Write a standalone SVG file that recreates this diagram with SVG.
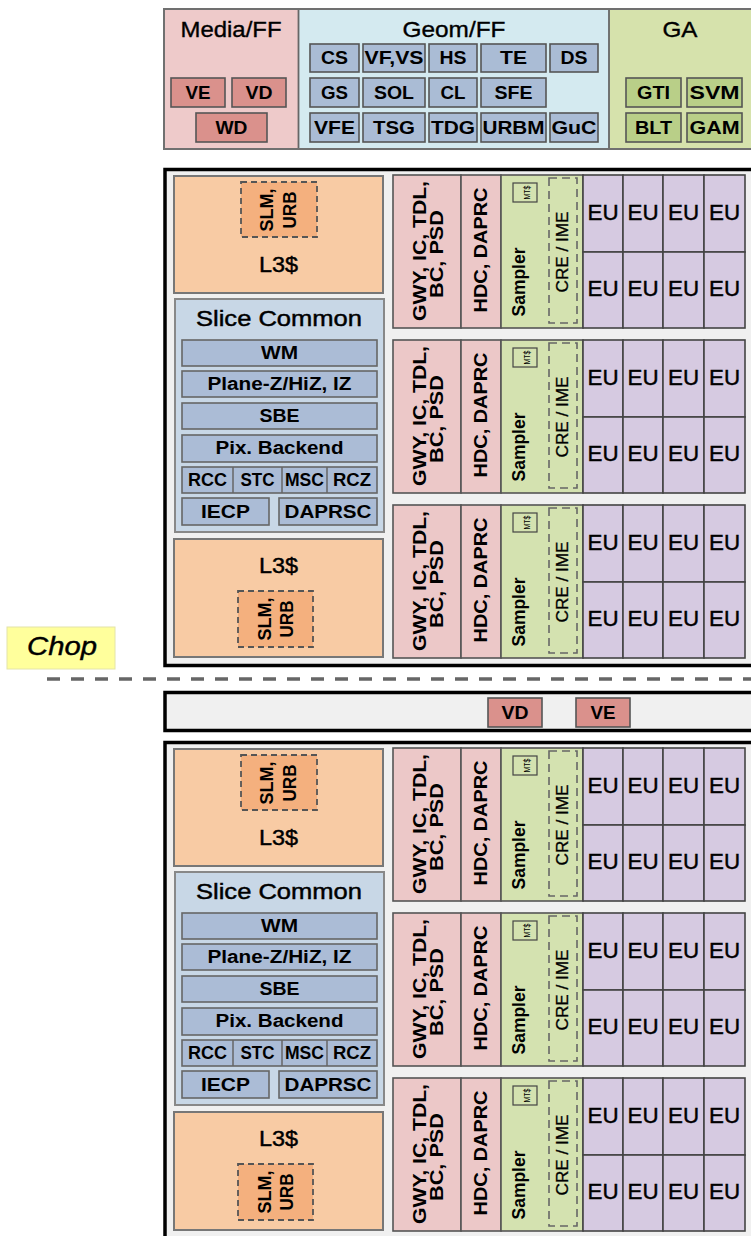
<svg xmlns="http://www.w3.org/2000/svg" width="751" height="1236" viewBox="0 0 751 1236">
<style>
text{font-family:"Liberation Sans",Arial,sans-serif;text-anchor:middle;fill:#000}
.b{font-weight:bold;font-size:18px}
.t{font-size:22px;stroke:#000;stroke-width:0.45}
.ttl{font-size:22px;stroke:#000;stroke-width:0.35}
.mf{fill:#eecaca}
.gf{fill:#d4eaf0}
.gaf{fill:#d6e2ac}
.bxr{fill:#da918c;stroke:#555;stroke-width:1.6}
.bxb{fill:#aabcd5;stroke:#555;stroke-width:1.6}
.bxg{fill:#b9cf88;stroke:#555;stroke-width:1.6}
.slice{fill:#f0f0f0;stroke:#000;stroke-width:3.5}
.l3{fill:#f8cba4;stroke:#777;stroke-width:2}
.slm{fill:#f4b07e;stroke:#555;stroke-width:1.8;stroke-dasharray:6 4}
.sc{fill:#c8d7e6;stroke:#888;stroke-width:2}
.scb{fill:#abbcd6;stroke:#666;stroke-width:1.6}
.pk{fill:#ecc8c8;stroke:#555;stroke-width:1.6}
.sm{fill:#d4e2b0;stroke:#555;stroke-width:1.6}
.eu{fill:#d6cae1;stroke:#444;stroke-width:1.6}
.cre{fill:none;stroke:#666;stroke-width:1.6;stroke-dasharray:8 5}
.mt{fill:none;stroke:#444;stroke-width:1.2}
.r{font-weight:bold;font-size:18px}
.sp{font-weight:bold;font-size:19px}
.eut{font-size:22px;stroke:#000;stroke-width:0.4}
.mtt{font-size:9px}
.cret{font-size:16px;stroke:#000;stroke-width:0.3}
</style>

<g id="top-panel">
  <rect x="164" y="9" width="134.5" height="140" class="mf"/>
  <rect x="298.5" y="9" width="310.5" height="140" class="gf"/>
  <rect x="609" y="9" width="150" height="140" class="gaf"/>
  <line x1="298.5" y1="9" x2="298.5" y2="149" stroke="#666" stroke-width="1.8"/>
  <line x1="609" y1="9" x2="609" y2="149" stroke="#666" stroke-width="1.8"/>
  <rect x="164" y="9" width="600" height="140" fill="none" stroke="#707070" stroke-width="2"/>
</g>

<g id="media-ff">
  <text x="231" y="37" class="ttl" textLength="101" lengthAdjust="spacingAndGlyphs">Media/FF</text>
  <g id="mf-ve"><rect x="171" y="78" width="54" height="29" class="bxr"/><text x="198" y="99" class="b" textLength="25" lengthAdjust="spacingAndGlyphs">VE</text></g>
  <g id="mf-vd"><rect x="232" y="78" width="54" height="29" class="bxr"/><text x="259" y="99" class="b" textLength="27" lengthAdjust="spacingAndGlyphs">VD</text></g>
  <g id="mf-wd"><rect x="196" y="113" width="71" height="29" class="bxr"/><text x="231.5" y="134" class="b" textLength="32" lengthAdjust="spacingAndGlyphs">WD</text></g>
</g>

<g id="geom-ff">
  <text x="454" y="37" class="ttl" textLength="103" lengthAdjust="spacingAndGlyphs">Geom/FF</text>
  <g id="g-cs"><rect x="310" y="44" width="49" height="28" class="bxb"/><text x="334.5" y="64" class="b" textLength="27" lengthAdjust="spacingAndGlyphs">CS</text></g>
  <g id="g-vfvs"><rect x="363" y="44" width="62" height="28" class="bxb"/><text x="394" y="64" class="b" textLength="59" lengthAdjust="spacingAndGlyphs">VF,VS</text></g>
  <g id="g-hs"><rect x="429" y="44" width="48" height="28" class="bxb"/><text x="453" y="64" class="b" textLength="27" lengthAdjust="spacingAndGlyphs">HS</text></g>
  <g id="g-te"><rect x="481" y="44" width="65" height="28" class="bxb"/><text x="513.5" y="64" class="b" textLength="27" lengthAdjust="spacingAndGlyphs">TE</text></g>
  <g id="g-ds"><rect x="550" y="44" width="48" height="28" class="bxb"/><text x="574" y="64" class="b" textLength="27" lengthAdjust="spacingAndGlyphs">DS</text></g>
  <g id="g-gs"><rect x="310" y="78" width="49" height="29" class="bxb"/><text x="334.5" y="99" class="b" textLength="27" lengthAdjust="spacingAndGlyphs">GS</text></g>
  <g id="g-sol"><rect x="363" y="78" width="62" height="29" class="bxb"/><text x="394" y="99" class="b" textLength="40" lengthAdjust="spacingAndGlyphs">SOL</text></g>
  <g id="g-cl"><rect x="429" y="78" width="48" height="29" class="bxb"/><text x="453" y="99" class="b" textLength="25" lengthAdjust="spacingAndGlyphs">CL</text></g>
  <g id="g-sfe"><rect x="481" y="78" width="65" height="29" class="bxb"/><text x="513.5" y="99" class="b" textLength="38" lengthAdjust="spacingAndGlyphs">SFE</text></g>
  <g id="g-vfe"><rect x="310" y="113" width="49" height="29" class="bxb"/><text x="334.5" y="134" class="b" textLength="41" lengthAdjust="spacingAndGlyphs">VFE</text></g>
  <g id="g-tsg"><rect x="363" y="113" width="62" height="29" class="bxb"/><text x="394" y="134" class="b" textLength="42" lengthAdjust="spacingAndGlyphs">TSG</text></g>
  <g id="g-tdg"><rect x="429" y="113" width="48" height="29" class="bxb"/><text x="453" y="134" class="b" textLength="44" lengthAdjust="spacingAndGlyphs">TDG</text></g>
  <g id="g-urbm"><rect x="481" y="113" width="65" height="29" class="bxb"/><text x="513.5" y="134" class="b" textLength="62" lengthAdjust="spacingAndGlyphs">URBM</text></g>
  <g id="g-guc"><rect x="550" y="113" width="48" height="29" class="bxb"/><text x="574" y="134" class="b" textLength="45" lengthAdjust="spacingAndGlyphs">GuC</text></g>
</g>

<g id="ga">
  <text x="680" y="37" class="ttl" textLength="35" lengthAdjust="spacingAndGlyphs">GA</text>
  <g id="ga-gti"><rect x="626" y="78" width="55" height="29" class="bxg"/><text x="653.5" y="99" class="b" textLength="33" lengthAdjust="spacingAndGlyphs">GTI</text></g>
  <g id="ga-svm"><rect x="687" y="78" width="55" height="29" class="bxg"/><text x="714.5" y="99" class="b" textLength="50" lengthAdjust="spacingAndGlyphs">SVM</text></g>
  <g id="ga-blt"><rect x="626" y="113" width="55" height="29" class="bxg"/><text x="653.5" y="134" class="b" textLength="37" lengthAdjust="spacingAndGlyphs">BLT</text></g>
  <g id="ga-gam"><rect x="687" y="113" width="55" height="29" class="bxg"/><text x="714.5" y="134" class="b" textLength="50" lengthAdjust="spacingAndGlyphs">GAM</text></g>
</g>

<!-- ================= SLICE 1 ================= -->
<g id="slice1">
  <rect x="165" y="169.5" width="620" height="496" class="slice"/>
  <g id="s1-l3-top">
    <rect x="174" y="176" width="209" height="117" class="l3"/>
    <rect x="241" y="182" width="76" height="55" class="slm"/>
    <text transform="translate(273,210) rotate(-90)" class="r" textLength="43" lengthAdjust="spacingAndGlyphs">SLM,</text>
    <text transform="translate(296,210) rotate(-90)" class="r" textLength="37" lengthAdjust="spacingAndGlyphs">URB</text>
    <text x="278.5" y="272" class="t" textLength="39" lengthAdjust="spacingAndGlyphs">L3$</text>
  </g>
  <g id="s1-slice-common">
    <rect x="175" y="299" width="209" height="233" class="sc"/>
    <text x="279" y="326" class="t" textLength="166" lengthAdjust="spacingAndGlyphs">Slice Common</text>
    <rect x="182" y="340" width="195" height="26" class="scb"/><text x="279.5" y="359" class="r" textLength="37" lengthAdjust="spacingAndGlyphs">WM</text>
    <rect x="182" y="371" width="195" height="26" class="scb"/><text x="279.5" y="390" class="r" textLength="144" lengthAdjust="spacingAndGlyphs">Plane-Z/HiZ, IZ</text>
    <rect x="182" y="403" width="195" height="26" class="scb"/><text x="279.5" y="422" class="r" textLength="40" lengthAdjust="spacingAndGlyphs">SBE</text>
    <rect x="182" y="435" width="195" height="27" class="scb"/><text x="279.5" y="454" class="r" textLength="128" lengthAdjust="spacingAndGlyphs">Pix. Backend</text>
    <rect x="182" y="467" width="195" height="26" class="scb"/>
    <line x1="233" y1="467" x2="233" y2="493" stroke="#666" stroke-width="1.5"/>
    <line x1="282" y1="467" x2="282" y2="493" stroke="#666" stroke-width="1.5"/>
    <line x1="327" y1="467" x2="327" y2="493" stroke="#666" stroke-width="1.5"/>
    <text x="207.5" y="486" class="r" textLength="39" lengthAdjust="spacingAndGlyphs">RCC</text>
    <text x="257.5" y="486" class="r" textLength="34" lengthAdjust="spacingAndGlyphs">STC</text>
    <text x="304.5" y="486" class="r" textLength="39" lengthAdjust="spacingAndGlyphs">MSC</text>
    <text x="352" y="486" class="r" textLength="38" lengthAdjust="spacingAndGlyphs">RCZ</text>
    <rect x="182" y="498" width="87" height="27" class="scb"/><text x="225.5" y="518" class="r" textLength="49" lengthAdjust="spacingAndGlyphs">IECP</text>
    <rect x="279" y="498" width="98" height="27" class="scb"/><text x="328" y="518" class="r" textLength="87" lengthAdjust="spacingAndGlyphs">DAPRSC</text>
  </g>
  <g id="s1-l3-bottom">
    <rect x="174" y="539" width="209" height="118" class="l3"/>
    <text x="278.5" y="573" class="t" textLength="39" lengthAdjust="spacingAndGlyphs">L3$</text>
    <rect x="238" y="591" width="75" height="56" class="slm"/>
    <text transform="translate(271,619) rotate(-90)" class="r" textLength="43" lengthAdjust="spacingAndGlyphs">SLM,</text>
    <text transform="translate(293,619) rotate(-90)" class="r" textLength="37" lengthAdjust="spacingAndGlyphs">URB</text>
  </g>
  <g id="s1-sub1">
    <rect x="393" y="175" width="68" height="153" class="pk"/>
    <rect x="461" y="175" width="40" height="153" class="pk"/>
    <rect x="501" y="175" width="82" height="153" class="sm"/>
    <rect x="583" y="175" width="40" height="77" class="eu"/><rect x="623" y="175" width="40" height="77" class="eu"/><rect x="663" y="175" width="41" height="77" class="eu"/><rect x="704" y="175" width="41" height="77" class="eu"/>
    <rect x="583" y="252" width="40" height="76" class="eu"/><rect x="623" y="252" width="40" height="76" class="eu"/><rect x="663" y="252" width="41" height="76" class="eu"/><rect x="704" y="252" width="41" height="76" class="eu"/>
    <text transform="translate(426,251) rotate(-90)" class="r" textLength="140" lengthAdjust="spacingAndGlyphs">GWY, IC, TDL,</text>
    <text transform="translate(443,254) rotate(-90)" class="r" textLength="88" lengthAdjust="spacingAndGlyphs">BC, PSD</text>
    <text transform="translate(487,250) rotate(-90)" class="r" textLength="125" lengthAdjust="spacingAndGlyphs">HDC, DAPRC</text>
    <text transform="translate(525,282) rotate(-90)" class="sp" textLength="69" lengthAdjust="spacingAndGlyphs">Sampler</text>
    <rect x="513" y="183" width="24" height="19" class="mt"/>
    <text transform="translate(530,192.5) rotate(-90)" class="mtt" textLength="14" lengthAdjust="spacingAndGlyphs">MT$</text>
    <rect x="549" y="178" width="28" height="145" class="cre"/>
    <text transform="translate(568,252) rotate(-90)" class="cret" textLength="81" lengthAdjust="spacingAndGlyphs">CRE / IME</text>
    <text x="603" y="220" class="eut" textLength="31" lengthAdjust="spacingAndGlyphs">EU</text><text x="643" y="220" class="eut" textLength="31" lengthAdjust="spacingAndGlyphs">EU</text><text x="683.5" y="220" class="eut" textLength="31" lengthAdjust="spacingAndGlyphs">EU</text><text x="724.5" y="220" class="eut" textLength="31" lengthAdjust="spacingAndGlyphs">EU</text>
    <text x="603" y="296" class="eut" textLength="31" lengthAdjust="spacingAndGlyphs">EU</text><text x="643" y="296" class="eut" textLength="31" lengthAdjust="spacingAndGlyphs">EU</text><text x="683.5" y="296" class="eut" textLength="31" lengthAdjust="spacingAndGlyphs">EU</text><text x="724.5" y="296" class="eut" textLength="31" lengthAdjust="spacingAndGlyphs">EU</text>
  </g>
  <g id="s1-sub2">
    <rect x="393" y="340" width="68" height="153" class="pk"/>
    <rect x="461" y="340" width="40" height="153" class="pk"/>
    <rect x="501" y="340" width="82" height="153" class="sm"/>
    <rect x="583" y="340" width="40" height="77" class="eu"/><rect x="623" y="340" width="40" height="77" class="eu"/><rect x="663" y="340" width="41" height="77" class="eu"/><rect x="704" y="340" width="41" height="77" class="eu"/>
    <rect x="583" y="417" width="40" height="76" class="eu"/><rect x="623" y="417" width="40" height="76" class="eu"/><rect x="663" y="417" width="41" height="76" class="eu"/><rect x="704" y="417" width="41" height="76" class="eu"/>
    <text transform="translate(426,416) rotate(-90)" class="r" textLength="140" lengthAdjust="spacingAndGlyphs">GWY, IC, TDL,</text>
    <text transform="translate(443,419) rotate(-90)" class="r" textLength="88" lengthAdjust="spacingAndGlyphs">BC, PSD</text>
    <text transform="translate(487,415) rotate(-90)" class="r" textLength="125" lengthAdjust="spacingAndGlyphs">HDC, DAPRC</text>
    <text transform="translate(525,447) rotate(-90)" class="sp" textLength="69" lengthAdjust="spacingAndGlyphs">Sampler</text>
    <rect x="513" y="348" width="24" height="19" class="mt"/>
    <text transform="translate(530,357.5) rotate(-90)" class="mtt" textLength="14" lengthAdjust="spacingAndGlyphs">MT$</text>
    <rect x="549" y="343" width="28" height="145" class="cre"/>
    <text transform="translate(568,417) rotate(-90)" class="cret" textLength="81" lengthAdjust="spacingAndGlyphs">CRE / IME</text>
    <text x="603" y="385" class="eut" textLength="31" lengthAdjust="spacingAndGlyphs">EU</text><text x="643" y="385" class="eut" textLength="31" lengthAdjust="spacingAndGlyphs">EU</text><text x="683.5" y="385" class="eut" textLength="31" lengthAdjust="spacingAndGlyphs">EU</text><text x="724.5" y="385" class="eut" textLength="31" lengthAdjust="spacingAndGlyphs">EU</text>
    <text x="603" y="461" class="eut" textLength="31" lengthAdjust="spacingAndGlyphs">EU</text><text x="643" y="461" class="eut" textLength="31" lengthAdjust="spacingAndGlyphs">EU</text><text x="683.5" y="461" class="eut" textLength="31" lengthAdjust="spacingAndGlyphs">EU</text><text x="724.5" y="461" class="eut" textLength="31" lengthAdjust="spacingAndGlyphs">EU</text>
  </g>
  <g id="s1-sub3">
    <rect x="393" y="505" width="68" height="153" class="pk"/>
    <rect x="461" y="505" width="40" height="153" class="pk"/>
    <rect x="501" y="505" width="82" height="153" class="sm"/>
    <rect x="583" y="505" width="40" height="77" class="eu"/><rect x="623" y="505" width="40" height="77" class="eu"/><rect x="663" y="505" width="41" height="77" class="eu"/><rect x="704" y="505" width="41" height="77" class="eu"/>
    <rect x="583" y="582" width="40" height="76" class="eu"/><rect x="623" y="582" width="40" height="76" class="eu"/><rect x="663" y="582" width="41" height="76" class="eu"/><rect x="704" y="582" width="41" height="76" class="eu"/>
    <text transform="translate(426,581) rotate(-90)" class="r" textLength="140" lengthAdjust="spacingAndGlyphs">GWY, IC, TDL,</text>
    <text transform="translate(443,584) rotate(-90)" class="r" textLength="88" lengthAdjust="spacingAndGlyphs">BC, PSD</text>
    <text transform="translate(487,580) rotate(-90)" class="r" textLength="125" lengthAdjust="spacingAndGlyphs">HDC, DAPRC</text>
    <text transform="translate(525,612) rotate(-90)" class="sp" textLength="69" lengthAdjust="spacingAndGlyphs">Sampler</text>
    <rect x="513" y="513" width="24" height="19" class="mt"/>
    <text transform="translate(530,522.5) rotate(-90)" class="mtt" textLength="14" lengthAdjust="spacingAndGlyphs">MT$</text>
    <rect x="549" y="508" width="28" height="145" class="cre"/>
    <text transform="translate(568,582) rotate(-90)" class="cret" textLength="81" lengthAdjust="spacingAndGlyphs">CRE / IME</text>
    <text x="603" y="550" class="eut" textLength="31" lengthAdjust="spacingAndGlyphs">EU</text><text x="643" y="550" class="eut" textLength="31" lengthAdjust="spacingAndGlyphs">EU</text><text x="683.5" y="550" class="eut" textLength="31" lengthAdjust="spacingAndGlyphs">EU</text><text x="724.5" y="550" class="eut" textLength="31" lengthAdjust="spacingAndGlyphs">EU</text>
    <text x="603" y="626" class="eut" textLength="31" lengthAdjust="spacingAndGlyphs">EU</text><text x="643" y="626" class="eut" textLength="31" lengthAdjust="spacingAndGlyphs">EU</text><text x="683.5" y="626" class="eut" textLength="31" lengthAdjust="spacingAndGlyphs">EU</text><text x="724.5" y="626" class="eut" textLength="31" lengthAdjust="spacingAndGlyphs">EU</text>
  </g>
</g>

<g id="chop">
  <rect x="7" y="627" width="108" height="42" fill="#ffff9c" stroke="#e4e4a8" stroke-width="1"/>
  <text x="62" y="655" font-size="25" font-style="italic" stroke="#000" stroke-width="0.4" textLength="70" lengthAdjust="spacingAndGlyphs">Chop</text>
</g>
<g id="connectors">
  <line x1="47" y1="679" x2="751" y2="679" stroke="#666" stroke-width="3.5" stroke-dasharray="13 11"/>
</g>

<g id="mid-bar">
  <rect x="165" y="692.5" width="620" height="38" class="slice"/>
  <g id="mid-vd"><rect x="488" y="698" width="54" height="29" class="bxr"/><text x="515" y="719" class="b" textLength="27" lengthAdjust="spacingAndGlyphs">VD</text></g>
  <g id="mid-ve"><rect x="576" y="698" width="54" height="29" class="bxr"/><text x="603" y="719" class="b" textLength="25" lengthAdjust="spacingAndGlyphs">VE</text></g>
</g>

<!-- ================= SLICE 2 ================= -->
<g id="slice2">
  <rect x="165" y="742.5" width="620" height="496" class="slice"/>
  <g id="s2-l3-top">
    <rect x="174" y="749" width="209" height="117" class="l3"/>
    <rect x="241" y="755" width="76" height="55" class="slm"/>
    <text transform="translate(273,783) rotate(-90)" class="r" textLength="43" lengthAdjust="spacingAndGlyphs">SLM,</text>
    <text transform="translate(296,783) rotate(-90)" class="r" textLength="37" lengthAdjust="spacingAndGlyphs">URB</text>
    <text x="278.5" y="845" class="t" textLength="39" lengthAdjust="spacingAndGlyphs">L3$</text>
  </g>
  <g id="s2-slice-common">
    <rect x="175" y="872" width="209" height="233" class="sc"/>
    <text x="279" y="899" class="t" textLength="166" lengthAdjust="spacingAndGlyphs">Slice Common</text>
    <rect x="182" y="913" width="195" height="26" class="scb"/><text x="279.5" y="932" class="r" textLength="37" lengthAdjust="spacingAndGlyphs">WM</text>
    <rect x="182" y="944" width="195" height="26" class="scb"/><text x="279.5" y="963" class="r" textLength="144" lengthAdjust="spacingAndGlyphs">Plane-Z/HiZ, IZ</text>
    <rect x="182" y="976" width="195" height="26" class="scb"/><text x="279.5" y="995" class="r" textLength="40" lengthAdjust="spacingAndGlyphs">SBE</text>
    <rect x="182" y="1008" width="195" height="27" class="scb"/><text x="279.5" y="1027" class="r" textLength="128" lengthAdjust="spacingAndGlyphs">Pix. Backend</text>
    <rect x="182" y="1040" width="195" height="26" class="scb"/>
    <line x1="233" y1="1040" x2="233" y2="1066" stroke="#666" stroke-width="1.5"/>
    <line x1="282" y1="1040" x2="282" y2="1066" stroke="#666" stroke-width="1.5"/>
    <line x1="327" y1="1040" x2="327" y2="1066" stroke="#666" stroke-width="1.5"/>
    <text x="207.5" y="1059" class="r" textLength="39" lengthAdjust="spacingAndGlyphs">RCC</text>
    <text x="257.5" y="1059" class="r" textLength="34" lengthAdjust="spacingAndGlyphs">STC</text>
    <text x="304.5" y="1059" class="r" textLength="39" lengthAdjust="spacingAndGlyphs">MSC</text>
    <text x="352" y="1059" class="r" textLength="38" lengthAdjust="spacingAndGlyphs">RCZ</text>
    <rect x="182" y="1071" width="87" height="27" class="scb"/><text x="225.5" y="1091" class="r" textLength="49" lengthAdjust="spacingAndGlyphs">IECP</text>
    <rect x="279" y="1071" width="98" height="27" class="scb"/><text x="328" y="1091" class="r" textLength="87" lengthAdjust="spacingAndGlyphs">DAPRSC</text>
  </g>
  <g id="s2-l3-bottom">
    <rect x="174" y="1112" width="209" height="118" class="l3"/>
    <text x="278.5" y="1146" class="t" textLength="39" lengthAdjust="spacingAndGlyphs">L3$</text>
    <rect x="238" y="1164" width="75" height="56" class="slm"/>
    <text transform="translate(271,1192) rotate(-90)" class="r" textLength="43" lengthAdjust="spacingAndGlyphs">SLM,</text>
    <text transform="translate(293,1192) rotate(-90)" class="r" textLength="37" lengthAdjust="spacingAndGlyphs">URB</text>
  </g>
  <g id="s2-sub1">
    <rect x="393" y="748" width="68" height="153" class="pk"/>
    <rect x="461" y="748" width="40" height="153" class="pk"/>
    <rect x="501" y="748" width="82" height="153" class="sm"/>
    <rect x="583" y="748" width="40" height="77" class="eu"/><rect x="623" y="748" width="40" height="77" class="eu"/><rect x="663" y="748" width="41" height="77" class="eu"/><rect x="704" y="748" width="41" height="77" class="eu"/>
    <rect x="583" y="825" width="40" height="76" class="eu"/><rect x="623" y="825" width="40" height="76" class="eu"/><rect x="663" y="825" width="41" height="76" class="eu"/><rect x="704" y="825" width="41" height="76" class="eu"/>
    <text transform="translate(426,824) rotate(-90)" class="r" textLength="140" lengthAdjust="spacingAndGlyphs">GWY, IC, TDL,</text>
    <text transform="translate(443,827) rotate(-90)" class="r" textLength="88" lengthAdjust="spacingAndGlyphs">BC, PSD</text>
    <text transform="translate(487,823) rotate(-90)" class="r" textLength="125" lengthAdjust="spacingAndGlyphs">HDC, DAPRC</text>
    <text transform="translate(525,855) rotate(-90)" class="sp" textLength="69" lengthAdjust="spacingAndGlyphs">Sampler</text>
    <rect x="513" y="756" width="24" height="19" class="mt"/>
    <text transform="translate(530,765.5) rotate(-90)" class="mtt" textLength="14" lengthAdjust="spacingAndGlyphs">MT$</text>
    <rect x="549" y="751" width="28" height="145" class="cre"/>
    <text transform="translate(568,825) rotate(-90)" class="cret" textLength="81" lengthAdjust="spacingAndGlyphs">CRE / IME</text>
    <text x="603" y="793" class="eut" textLength="31" lengthAdjust="spacingAndGlyphs">EU</text><text x="643" y="793" class="eut" textLength="31" lengthAdjust="spacingAndGlyphs">EU</text><text x="683.5" y="793" class="eut" textLength="31" lengthAdjust="spacingAndGlyphs">EU</text><text x="724.5" y="793" class="eut" textLength="31" lengthAdjust="spacingAndGlyphs">EU</text>
    <text x="603" y="869" class="eut" textLength="31" lengthAdjust="spacingAndGlyphs">EU</text><text x="643" y="869" class="eut" textLength="31" lengthAdjust="spacingAndGlyphs">EU</text><text x="683.5" y="869" class="eut" textLength="31" lengthAdjust="spacingAndGlyphs">EU</text><text x="724.5" y="869" class="eut" textLength="31" lengthAdjust="spacingAndGlyphs">EU</text>
  </g>
  <g id="s2-sub2">
    <rect x="393" y="913" width="68" height="153" class="pk"/>
    <rect x="461" y="913" width="40" height="153" class="pk"/>
    <rect x="501" y="913" width="82" height="153" class="sm"/>
    <rect x="583" y="913" width="40" height="77" class="eu"/><rect x="623" y="913" width="40" height="77" class="eu"/><rect x="663" y="913" width="41" height="77" class="eu"/><rect x="704" y="913" width="41" height="77" class="eu"/>
    <rect x="583" y="990" width="40" height="76" class="eu"/><rect x="623" y="990" width="40" height="76" class="eu"/><rect x="663" y="990" width="41" height="76" class="eu"/><rect x="704" y="990" width="41" height="76" class="eu"/>
    <text transform="translate(426,989) rotate(-90)" class="r" textLength="140" lengthAdjust="spacingAndGlyphs">GWY, IC, TDL,</text>
    <text transform="translate(443,992) rotate(-90)" class="r" textLength="88" lengthAdjust="spacingAndGlyphs">BC, PSD</text>
    <text transform="translate(487,988) rotate(-90)" class="r" textLength="125" lengthAdjust="spacingAndGlyphs">HDC, DAPRC</text>
    <text transform="translate(525,1020) rotate(-90)" class="sp" textLength="69" lengthAdjust="spacingAndGlyphs">Sampler</text>
    <rect x="513" y="921" width="24" height="19" class="mt"/>
    <text transform="translate(530,930.5) rotate(-90)" class="mtt" textLength="14" lengthAdjust="spacingAndGlyphs">MT$</text>
    <rect x="549" y="916" width="28" height="145" class="cre"/>
    <text transform="translate(568,990) rotate(-90)" class="cret" textLength="81" lengthAdjust="spacingAndGlyphs">CRE / IME</text>
    <text x="603" y="958" class="eut" textLength="31" lengthAdjust="spacingAndGlyphs">EU</text><text x="643" y="958" class="eut" textLength="31" lengthAdjust="spacingAndGlyphs">EU</text><text x="683.5" y="958" class="eut" textLength="31" lengthAdjust="spacingAndGlyphs">EU</text><text x="724.5" y="958" class="eut" textLength="31" lengthAdjust="spacingAndGlyphs">EU</text>
    <text x="603" y="1034" class="eut" textLength="31" lengthAdjust="spacingAndGlyphs">EU</text><text x="643" y="1034" class="eut" textLength="31" lengthAdjust="spacingAndGlyphs">EU</text><text x="683.5" y="1034" class="eut" textLength="31" lengthAdjust="spacingAndGlyphs">EU</text><text x="724.5" y="1034" class="eut" textLength="31" lengthAdjust="spacingAndGlyphs">EU</text>
  </g>
  <g id="s2-sub3">
    <rect x="393" y="1078" width="68" height="153" class="pk"/>
    <rect x="461" y="1078" width="40" height="153" class="pk"/>
    <rect x="501" y="1078" width="82" height="153" class="sm"/>
    <rect x="583" y="1078" width="40" height="77" class="eu"/><rect x="623" y="1078" width="40" height="77" class="eu"/><rect x="663" y="1078" width="41" height="77" class="eu"/><rect x="704" y="1078" width="41" height="77" class="eu"/>
    <rect x="583" y="1155" width="40" height="76" class="eu"/><rect x="623" y="1155" width="40" height="76" class="eu"/><rect x="663" y="1155" width="41" height="76" class="eu"/><rect x="704" y="1155" width="41" height="76" class="eu"/>
    <text transform="translate(426,1154) rotate(-90)" class="r" textLength="140" lengthAdjust="spacingAndGlyphs">GWY, IC, TDL,</text>
    <text transform="translate(443,1157) rotate(-90)" class="r" textLength="88" lengthAdjust="spacingAndGlyphs">BC, PSD</text>
    <text transform="translate(487,1153) rotate(-90)" class="r" textLength="125" lengthAdjust="spacingAndGlyphs">HDC, DAPRC</text>
    <text transform="translate(525,1185) rotate(-90)" class="sp" textLength="69" lengthAdjust="spacingAndGlyphs">Sampler</text>
    <rect x="513" y="1086" width="24" height="19" class="mt"/>
    <text transform="translate(530,1095.5) rotate(-90)" class="mtt" textLength="14" lengthAdjust="spacingAndGlyphs">MT$</text>
    <rect x="549" y="1081" width="28" height="145" class="cre"/>
    <text transform="translate(568,1155) rotate(-90)" class="cret" textLength="81" lengthAdjust="spacingAndGlyphs">CRE / IME</text>
    <text x="603" y="1123" class="eut" textLength="31" lengthAdjust="spacingAndGlyphs">EU</text><text x="643" y="1123" class="eut" textLength="31" lengthAdjust="spacingAndGlyphs">EU</text><text x="683.5" y="1123" class="eut" textLength="31" lengthAdjust="spacingAndGlyphs">EU</text><text x="724.5" y="1123" class="eut" textLength="31" lengthAdjust="spacingAndGlyphs">EU</text>
    <text x="603" y="1199" class="eut" textLength="31" lengthAdjust="spacingAndGlyphs">EU</text><text x="643" y="1199" class="eut" textLength="31" lengthAdjust="spacingAndGlyphs">EU</text><text x="683.5" y="1199" class="eut" textLength="31" lengthAdjust="spacingAndGlyphs">EU</text><text x="724.5" y="1199" class="eut" textLength="31" lengthAdjust="spacingAndGlyphs">EU</text>
  </g>
</g>
</svg>
